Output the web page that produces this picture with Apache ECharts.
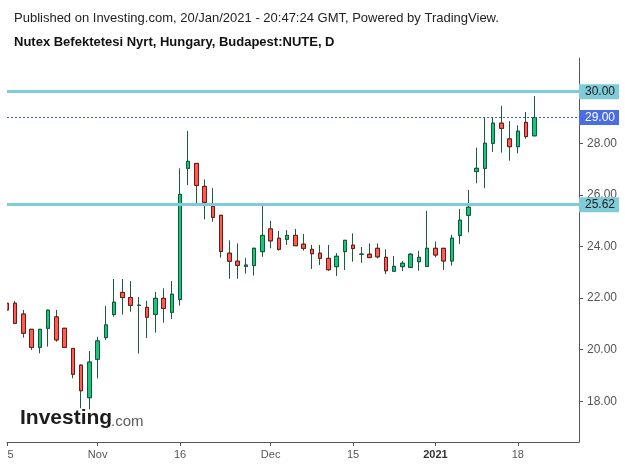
<!DOCTYPE html>
<html><head><meta charset="utf-8">
<script src="https://cdn.jsdelivr.net/npm/echarts@6/dist/echarts.min.js"></script>
<style>html,body{margin:0;padding:0;background:#fff}#c{width:625px;height:464px}</style>
</head><body><div id="c"></div>
<script>
const dates = [
 '2020-10-15','2020-10-16','2020-10-19','2020-10-20','2020-10-21','2020-10-22','2020-10-26','2020-10-27','2020-10-28','2020-10-29','2020-10-30',
 '2020-11-02','2020-11-03','2020-11-04','2020-11-05','2020-11-06','2020-11-09','2020-11-10','2020-11-11','2020-11-12','2020-11-13',
 '2020-11-16','2020-11-17','2020-11-18','2020-11-19','2020-11-20','2020-11-23','2020-11-24','2020-11-25','2020-11-26','2020-11-27','2020-11-30',
 '2020-12-01','2020-12-02','2020-12-03','2020-12-04','2020-12-07','2020-12-08','2020-12-09','2020-12-10','2020-12-11',
 '2020-12-14','2020-12-15','2020-12-16','2020-12-17','2020-12-18','2020-12-21','2020-12-22','2020-12-23','2020-12-28','2020-12-29','2020-12-30',
 '2021-01-04','2021-01-05','2021-01-06','2021-01-07','2021-01-08','2021-01-11','2021-01-12','2021-01-13','2021-01-14','2021-01-15',
 '2021-01-18','2021-01-19','2021-01-20'
];
const open = [21.80,21.80,21.38,20.79,20.09,20.83,21.27,20.83,20.05,19.40,18.14,
 19.63,20.47,21.36,22.22,22.02,21.72,21.64,21.37,21.99,21.45,
 21.95,27.03,27.22,26.33,25.56,25.21,23.74,23.43,23.23,23.26,23.80,
 24.68,24.32,24.28,24.43,24.09,23.89,23.74,23.54,23.22,
 23.80,24.05,23.70,23.70,23.93,23.58,23.04,23.22,23.19,23.41,23.23,
 23.93,23.93,23.44,24.43,25.21,26.91,27.03,28.00,28.78,28.17,
 27.87,28.81,28.29];
const high = [21.82,21.89,21.54,20.80,20.80,21.55,21.54,20.83,20.05,19.43,19.95,
 20.50,21.69,22.74,22.74,22.66,22.04,21.89,22.24,22.38,22.66,
 27.03,28.48,27.22,26.60,26.26,25.21,24.24,24.12,23.55,23.95,25.65,
 24.99,24.60,24.64,24.68,24.48,24.06,24.06,24.06,23.74,
 24.24,24.51,23.98,24.12,24.12,23.89,23.63,23.44,23.74,23.83,25.38,
 24.19,23.93,24.45,25.45,26.19,27.83,28.99,28.99,29.45,28.86,
 28.70,29.21,29.83];
const low = [21.52,21.02,20.47,19.99,19.86,20.12,20.31,20.09,18.89,17.73,17.69,
 18.89,20.38,21.28,21.36,21.47,19.85,20.45,20.66,21.05,21.19,
 21.71,26.38,25.67,25.05,24.96,23.57,22.75,22.75,22.95,22.87,23.60,
 23.93,23.84,24.06,24.03,23.84,23.13,23.28,23.05,22.86,
 23.09,23.41,23.37,23.57,23.54,22.93,23.04,23.05,23.19,23.06,23.23,
 23.58,23.09,23.26,24.09,24.55,26.45,26.26,27.67,27.64,27.33,
 27.61,28.18,28.29];
const close = [21.54,21.02,20.64,20.09,20.79,21.53,20.38,20.09,19.05,18.41,19.52,
 20.34,20.96,21.84,22.02,21.72,21.72,21.26,21.99,21.60,22.15,
 26.02,27.30,26.37,25.71,25.13,23.81,23.43,23.27,23.28,23.93,24.43,
 24.22,23.89,24.43,24.03,23.93,23.72,23.54,23.10,23.62,
 24.24,23.92,23.70,23.57,23.60,23.06,23.23,23.35,23.70,23.58,23.93,
 23.67,23.44,24.32,25.02,25.52,27.03,28.00,28.78,28.58,27.87,
 28.47,28.26,29.00];
const tickDates = ['2020-10-15','2020-11-02','2020-11-16','2020-12-01','2020-12-15','2021-01-04','2021-01-18'];
const tickLabels = ['5','Nov','16','Dec','15','2021','18'];
const levelLines = [30.00, 25.62];
const lastPrice = 29.00;
const yTicks = [18, 20, 22, 24, 26, 28, 30];
const titleLine1 = 'Published on Investing.com, 20/Jan/2021 - 20:47:24 GMT, Powered by TradingView.';
const titleLine2 = 'Nutex Befektetesi Nyrt, Hungary, Budapest:NUTE, D';

const FONT = "'Liberation Sans', Arial, sans-serif";
const tickIdx = tickDates.map(d => dates.indexOf(d));
const wickData = dates.map((d, i) => [i, open[i], close[i], low[i], high[i]]);
const bodyData = dates.map((d, i) => [i, open[i], close[i], Math.min(open[i], close[i]), Math.max(open[i], close[i])]);

const chart = echarts.init(document.getElementById('c'), null, {renderer: 'canvas'});
const cyan = '#80cbd8';
const boxLabel = (txt, bg, fg) => ({show: true, position: 'end', distance: 0, formatter: txt, backgroundColor: bg, color: fg,
  fontSize: 12, fontFamily: FONT, padding: [1, 4, 1, 6], lineHeight: 13});
chart.setOption({
  animation: false,
  backgroundColor: '#ffffff',
  textStyle: {fontFamily: FONT},
  graphic: [
    {type: 'rect', left: 0, top: 50, z: 50, shape: {width: 7, height: 390}, style: {fill: '#ffffff'}},
    {type: 'text', left: 14, top: 12, style: {text: titleLine1, font: "13px " + FONT, fill: '#222'}},
    {type: 'text', left: 14, top: 36, style: {text: titleLine2, font: "bold 13px " + FONT, fill: '#111'}},
    {type: 'text', left: 20, top: 408, z: 100, style: {text: 'Investing', font: "bold 21px " + FONT, fill: '#1d1d1d'}},
    {type: 'text', left: 111, top: 414, z: 100, style: {text: '.com', font: "15px " + FONT, fill: '#5a5a5a'}}
  ],
  grid: {left: 7, right: 46, top: 58, bottom: 22},
  xAxis: {
    type: 'value', min: 0, max: 69.43,
    splitLine: {show: false},
    axisLine: {show: true, onZero: false, lineStyle: {color: '#555', width: 1}},
    axisTick: {show: true, length: 4, customValues: tickIdx, lineStyle: {color: '#555'}},
    axisLabel: {
      customValues: tickIdx, margin: 7, fontSize: 11, color: '#555', fontFamily: FONT,
      formatter: function (v) {
        const k = tickIdx.indexOf(Math.round(v));
        if (k < 0) return '';
        if (k === 0) return '{p|' + tickLabels[k] + '}';
        if (tickLabels[k] === '2021') return '{b|' + tickLabels[k] + '}';
        return tickLabels[k];
      },
      rich: {
        p: {padding: [0, 0, 0, 7], fontSize: 11, color: '#555', fontFamily: FONT},
        b: {fontSize: 11, color: '#333', fontWeight: 'bold', fontFamily: FONT}
      }
    }
  },
  yAxis: {
    type: 'value', position: 'right', min: 16.422, max: 31.306, scale: true,
    splitLine: {show: false},
    axisLine: {show: true, onZero: false, lineStyle: {color: '#555', width: 1}},
    axisTick: {show: true, length: 4, customValues: yTicks, lineStyle: {color: '#555'}},
    axisLabel: {customValues: yTicks, margin: 8, fontSize: 12, color: '#555', fontFamily: FONT,
      formatter: v => v.toFixed(2)}
  },
  series: [
    {
      type: 'candlestick', name: 'wick', data: wickData, encode: {x: 0, y: [1, 2, 3, 4]},
      barWidth: 4, clip: true,
      itemStyle: {color: '#1e5a3c', color0: '#1e5a3c', borderColor: '#1e5a3c', borderColor0: '#1e5a3c', borderColorDoji: '#1e5a3c', borderWidth: 1},
      markLine: {
        silent: true, symbol: ['none', 'none'], animation: false,
        data: [
          {yAxis: levelLines[0], lineStyle: {color: cyan, width: 3, type: 'solid'}, label: boxLabel(levelLines[0].toFixed(2), cyan, '#222')},
          {yAxis: levelLines[1], lineStyle: {color: cyan, width: 3, type: 'solid'}, label: boxLabel(levelLines[1].toFixed(2), cyan, '#222')},
          {yAxis: lastPrice, lineStyle: {color: '#3b5ad6', width: 1, type: [2, 2]}, label: boxLabel(lastPrice.toFixed(2), '#4a6de2', '#fff')}
        ]
      }
    },
    {
      type: 'candlestick', name: 'body', data: bodyData, encode: {x: 0, y: [1, 2, 3, 4]},
      barWidth: 4, clip: true,
      itemStyle: {color: '#12c97b', color0: '#ff5b50', borderColor: '#17563a', borderColor0: '#6e1b17', borderColorDoji: '#1e5a3c', borderWidth: 1}
    }
  ]
});
</script></body></html>
